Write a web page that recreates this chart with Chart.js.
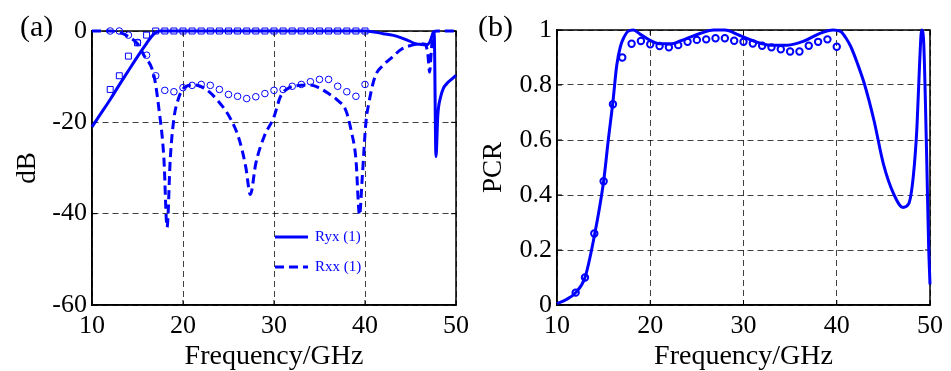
<!DOCTYPE html>
<html>
<head>
<meta charset="utf-8">
<script src="https://cdn.jsdelivr.net/npm/chart.js@4.4.0/dist/chart.umd.min.js"></script>
<style>
body { margin: 0; background: #fff; }
#wrap { display: flex; width: 951px; height: 371px; }
canvas { display: block; }
</style>
</head>
<body>
<div id="wrap">
  <canvas id="chartA" width="475" height="371"></canvas>
  <canvas id="chartB" width="476" height="371"></canvas>
</div>
<script>
// (a) simulated Ryx, solid line
var ryxSimF = [10, 11, 12, 13, 14, 15, 16, 16.5, 17, 17.5, 18, 20, 25, 30, 35, 40, 41, 42, 43, 44, 45, 45.5, 46, 46.7, 47.1, 47.4, 47.6, 47.8, 48.0, 48.3, 48.6, 49, 49.5, 50];
var ryxSimV = [-21, -18, -15, -11.8, -8.7, -5.6, -2.7, -1.3, -0.3, 0, 0, 0, 0, 0, 0, 0, -0.2, -0.6, -0.9, -1.5, -2.3, -2.8, -2.9, -3.0, -2.5, -0.9, -0.2, -27.5, -18.5, -14.5, -12.6, -11.5, -10.6, -9.7];

// (a) simulated Rxx, dashed line
var rxxSimF = [10, 12, 13, 14, 15, 15.7, 16.8, 17.35, 17.9, 18.25, 18.6, 19, 19.5, 20.2, 21.3, 22.4, 23.8, 25.3, 26.2, 26.9, 27.4, 28, 28.9, 30, 30.7, 31.8, 33, 34, 35, 36, 37, 37.9, 38.5, 39, 39.4, 39.7, 40.1, 40.4, 41.1, 42, 43, 44, 45, 46, 46.6, 46.9, 47.1, 47.3, 47.5, 48, 50];
var rxxSimV = [0, 0, -0.3, -1.2, -2.8, -5.3, -9.7, -17, -27.9, -43, -28, -19.2, -14.8, -12.3, -11.8, -12.6, -15.2, -19.5, -23.9, -29.8, -35.8, -29, -23.2, -18.8, -14.4, -12.3, -11.9, -11.8, -12.5, -13.7, -15.2, -17.4, -22, -28, -40.3, -32, -20, -16, -10, -7.5, -5.7, -4, -3.2, -2.8, -2.9, -5, -9, -4, -0.2, 0, 0];

// (a) measured points, 12..40 GHz
var measF = [12, 13, 14, 15, 16, 17, 18, 19, 20, 21, 22, 23, 24, 25, 26, 27, 28, 29, 30, 31, 32, 33, 34, 35, 36, 37, 38, 39, 40];
var ryxMeas = [-12.8, -9.8, -5.5, -2.6, -0.9, 0, 0, 0, 0, 0, 0, 0, 0, 0, 0, 0, 0, 0, 0, 0, 0, 0, 0, 0, 0, 0, 0, 0, 0];
var rxxMeas = [0, 0, -0.9, -2.5, -5.3, -9.8, -13, -13.3, -12.4, -11.9, -11.7, -11.9, -12.8, -13.9, -14.3, -14.8, -14.4, -13.7, -13.0, -12.8, -12.1, -11.7, -11.1, -10.6, -10.6, -12.1, -13.3, -14.3, -11.7];

// (b) simulated PCR
var pcrSimF = [10, 11, 12, 13, 14, 15, 15.5, 16, 16.4, 16.8, 17.2, 17.6, 18.2, 18.9, 19.8, 21, 22.3, 23.2, 24, 25.4, 26.8, 28, 29.6, 31.1, 32.9, 34.7, 36.5, 38.2, 39.6, 40.4, 41, 41.5, 42.2, 43, 44, 45, 46.1, 47.1, 47.7, 48.2, 48.6, 48.9, 49.1, 49.3, 49.5, 49.7, 49.85, 50];
var pcrSimV = [0.005, 0.02, 0.045, 0.1, 0.25, 0.45, 0.6, 0.74, 0.87, 0.94, 0.975, 0.995, 1.0, 0.985, 0.966, 0.95, 0.95, 0.96, 0.97, 0.988, 1.0, 1.0, 0.98, 0.96, 0.945, 0.945, 0.96, 0.988, 1.0, 0.995, 0.97, 0.94, 0.88, 0.8, 0.67, 0.513, 0.404, 0.355, 0.367, 0.465, 0.647, 0.89, 1.0, 0.97, 0.75, 0.45, 0.22, 0.075];

// (b) measured PCR, 12..40 GHz
var pcrMeas = [0.045, 0.1, 0.26, 0.45, 0.73, 0.90, 0.95, 0.96, 0.948, 0.942, 0.937, 0.945, 0.957, 0.964, 0.966, 0.97, 0.97, 0.961, 0.957, 0.951, 0.943, 0.937, 0.93, 0.922, 0.922, 0.943, 0.957, 0.966, 0.939];

var blue = '#0000ff';
var serif = "'Liberation Serif', 'Times New Roman', serif";
Chart.defaults.font.family = serif;
Chart.defaults.color = '#000';

function pts(xs, ys) {
  return xs.map(function (x, i) { return { x: x, y: ys[i] }; });
}

var gridStyle = { color: 'rgba(0,0,0,0.75)', lineWidth: 1, drawTicks: false };
var borderStyle = { color: '#000', width: 1.5, dash: [6, 4] };

// box round the plot, inward ticks, panel label and legend
var framePlugin = {
  id: 'frame',
  beforeDatasetsDraw: function (chart) {
    var ctx = chart.ctx, a = chart.chartArea, xs = chart.scales.x, ys = chart.scales.y;
    ctx.save();
    ctx.strokeStyle = '#000';
    ctx.lineWidth = 1.5;
    ctx.strokeRect(a.left, a.top, a.right - a.left, a.bottom - a.top);
    ctx.lineWidth = 1;
    ctx.beginPath();
    xs.ticks.forEach(function (t) {
      var px = xs.getPixelForValue(t.value);
      ctx.moveTo(px, a.bottom); ctx.lineTo(px, a.bottom - 5);
      ctx.moveTo(px, a.top); ctx.lineTo(px, a.top + 5);
    });
    ys.ticks.forEach(function (t) {
      var py = ys.getPixelForValue(t.value);
      ctx.moveTo(a.left, py); ctx.lineTo(a.left + 5, py);
      ctx.moveTo(a.right, py); ctx.lineTo(a.right - 5, py);
    });
    ctx.stroke();
    ctx.restore();
  },
  afterDraw: function (chart, args, opts) {
    var ctx = chart.ctx;
    ctx.save();
    ctx.fillStyle = '#000';
    ctx.font = '30px ' + serif;
    ctx.textBaseline = 'alphabetic';
    ctx.fillText(opts.label, opts.labelX, opts.labelY);
    if (opts.legend) {
      ctx.font = '15px ' + serif;
      ctx.textBaseline = 'middle';
      opts.legend.forEach(function (item, i) {
        var ds = chart.data.datasets[item.index];
        var y = opts.legendY + i * 30;
        ctx.strokeStyle = ds.borderColor;
        ctx.lineWidth = ds.borderWidth;
        ctx.setLineDash(ds.borderDash || []);
        ctx.beginPath();
        ctx.moveTo(opts.legendX, y);
        ctx.lineTo(opts.legendX + 33, y);
        ctx.stroke();
        ctx.setLineDash([]);
        ctx.fillStyle = blue;
        ctx.fillText(item.text, opts.legendX + 40, y);
      });
    }
    ctx.restore();
  }
};

function xAxis() {
  return {
    type: 'linear', min: 10, max: 50,
    ticks: { stepSize: 10, padding: 6, maxRotation: 0, font: { size: 26 } },
    grid: gridStyle,
    border: borderStyle,
    title: { display: true, text: 'Frequency/GHz', font: { size: 28, lineHeight: 1 }, padding: { top: 0, bottom: 0 } },
    afterFit: function (s) { s.height = 66; }
  };
}

function yAxis(min, max, step, text, width, titlePad) {
  return {
    min: min, max: max,
    ticks: {
      stepSize: step, padding: 5, font: { size: 26 },
      callback: function (v) { return String(Math.round(v * 10) / 10); }
    },
    grid: gridStyle,
    border: borderStyle,
    title: { display: true, text: text, font: { size: 27 }, padding: { top: titlePad, bottom: 0 } },
    afterFit: function (s) { s.width = width; }
  };
}

new Chart(document.getElementById('chartA'), {
  type: 'line',
  data: {
    datasets: [
      {
        label: 'Ryx (1)',
        data: pts(ryxSimF, ryxSimV),
        borderColor: blue, borderWidth: 3, pointRadius: 0,
        cubicInterpolationMode: 'monotone', clip: false
      },
      {
        label: 'Rxx (1)',
        data: pts(rxxSimF, rxxSimV),
        borderColor: blue, borderWidth: 3, borderDash: [9, 5], pointRadius: 0,
        cubicInterpolationMode: 'monotone', clip: false
      },
      {
        label: 'Ryx meas',
        data: pts(measF, ryxMeas),
        showLine: false, pointStyle: 'rect', pointRadius: 4.2,
        pointBorderColor: blue, pointBackgroundColor: 'rgba(0,0,0,0)', pointBorderWidth: 1, clip: false
      },
      {
        label: 'Rxx meas',
        data: pts(measF, rxxMeas),
        showLine: false, pointStyle: 'circle', pointRadius: 3.3,
        pointBorderColor: blue, pointBackgroundColor: 'rgba(0,0,0,0)', pointBorderWidth: 1, clip: false
      }
    ]
  },
  options: {
    responsive: false,
    animation: false,
    layout: { padding: { left: 6, right: 13, top: 31, bottom: 0 } },
    scales: {
      x: xAxis(),
      y: yAxis(-60, 0, 20, 'dB', 86, 6)
    },
    plugins: {
      legend: { display: false },
      tooltip: { enabled: false },
      frame: {
        label: '(a)', labelX: 20, labelY: 36,
        legend: [{ index: 0, text: 'Ryx (1)' }, { index: 1, text: 'Rxx (1)' }],
        legendX: 275, legendY: 237
      }
    }
  },
  plugins: [framePlugin]
});

new Chart(document.getElementById('chartB'), {
  type: 'line',
  data: {
    datasets: [
      {
        label: 'PCR sim',
        data: pts(pcrSimF, pcrSimV),
        borderColor: blue, borderWidth: 3, pointRadius: 0,
        cubicInterpolationMode: 'monotone', clip: false
      },
      {
        label: 'PCR meas',
        data: pts(measF, pcrMeas),
        showLine: false, pointStyle: 'circle', pointRadius: 3.2,
        pointBorderColor: blue, pointBackgroundColor: 'rgba(0,0,0,0)', pointBorderWidth: 2, clip: false
      }
    ]
  },
  options: {
    responsive: false,
    animation: false,
    layout: { padding: { left: 0, right: 21, top: 30, bottom: 0 } },
    scales: {
      x: xAxis(),
      y: yAxis(0, 1, 0.2, 'PCR', 82, 3)
    },
    plugins: {
      legend: { display: false },
      tooltip: { enabled: false },
      frame: { label: '(b)', labelX: 3, labelY: 36 }
    }
  },
  plugins: [framePlugin]
});
</script>
</body>
</html>
